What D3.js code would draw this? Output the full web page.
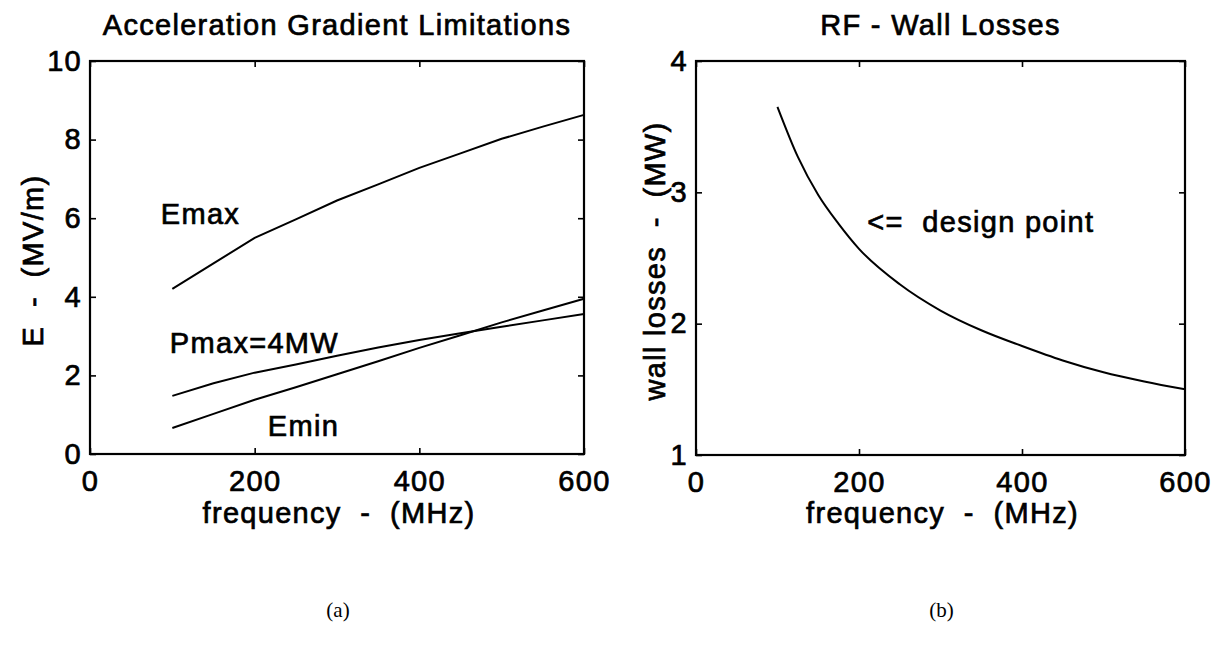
<!DOCTYPE html>
<html><head><meta charset="utf-8">
<script src="https://cdn.jsdelivr.net/npm/d3@7"></script>
<style>
body{margin:0;background:#fff;}
svg text{font-family:Arial,"Liberation Sans",Helvetica,sans-serif;fill:#000;}
svg text.sans{stroke:#000;stroke-width:0.7px;}
</style></head>
<body><svg id="c" width="1218" height="656"></svg>
<script>
// ---- Data ----
const freqA = [100,150,200,250,300,350,400,450,500,550,600];
const emax  = [4.2,4.85,5.5,5.97,6.45,6.86,7.28,7.65,8.02,8.33,8.63];
const pmax  = [1.48,1.8,2.07,2.28,2.5,2.71,2.9,3.07,3.24,3.4,3.56];
const emin  = [0.66,1.02,1.38,1.7,2.03,2.36,2.7,3.02,3.35,3.65,3.95];
const seriesNamesA = ["Emax","Pmax=4MW","Emin"];

const freqB = [100,125,150,175,200,250,300,350,400,450,500,550,600];
const wallLoss = [3.65,3.27,2.98,2.76,2.57,2.3,2.1,1.95,1.83,1.72,1.63,1.56,1.5];

const xTicks = [0,200,400,600];
const yTicksA = [0,2,4,6,8,10];
const yTicksB = [1,2,3,4];

const svg = d3.select("#c");
const FS = 29, LS = "1.3px";

function panel(o){
  const x = d3.scaleLinear().domain([0,600]).range([o.x0,o.x1]);
  const y = d3.scaleLinear().domain(o.yDom).range([o.y1,o.y0]);
  const g = svg.append("g");
  const fmt = d3.format("d");
  const ax = [
    [d3.axisBottom(x).tickValues(xTicks).tickFormat(fmt).tickSizeInner(-6).tickSizeOuter(0).tickPadding(16), `translate(0,${o.y1})`],
    [d3.axisTop(x).tickValues(xTicks).tickSizeInner(-6).tickSizeOuter(0).tickFormat(""), `translate(0,${o.y0})`],
    [d3.axisLeft(y).tickValues(o.yTicks).tickFormat(fmt).tickSizeInner(-6).tickSizeOuter(0).tickPadding(8), `translate(${o.x0},0)`],
    [d3.axisRight(y).tickValues(o.yTicks).tickSizeInner(-6).tickSizeOuter(0).tickFormat(""), `translate(${o.x1},0)`]
  ];
  ax.forEach(([a,t])=>{
    const s = g.append("g").attr("transform",t).call(a);
    s.select(".domain").remove();
    s.selectAll(".tick line").attr("stroke","#000").attr("stroke-width",1.6);
    s.selectAll("text").attr("class","sans").attr("font-size",FS).attr("letter-spacing",LS)
      .attr("font-family",'Arial,"Liberation Sans",sans-serif').attr("fill","#000");
  });
  g.append("rect").attr("x",o.x0).attr("y",o.y0).attr("width",o.x1-o.x0).attr("height",o.y1-o.y0)
    .attr("fill","none").attr("stroke","#000").attr("stroke-width",2.2);
  g.append("text").attr("class","sans").attr("x",(o.x0+o.x1)/2).attr("y",35).attr("text-anchor","middle")
    .attr("font-size",FS).attr("letter-spacing",LS).text(o.title);
  g.append("text").attr("class","sans").attr("x",(o.x0+o.x1)/2+2).attr("y",523).attr("text-anchor","middle")
    .attr("font-size",FS).attr("letter-spacing",LS).style("white-space","pre")
    .text("frequency  -  (MHz)");
  g.append("text").attr("class","sans").attr("transform",`translate(${o.ylx},${(o.y0+o.y1)/2+3}) rotate(-90)`)
    .attr("text-anchor","middle").attr("font-size",FS).attr("letter-spacing",LS).style("white-space","pre")
    .text(o.ylabel);
  g.append("text").attr("x",(o.x0+o.x1)/2+1).attr("y",617).attr("text-anchor","middle")
    .style("font-family",'"Liberation Serif","Times New Roman",serif')
    .attr("font-size",21).text(o.caption);
  return {g,x,y};
}

// Panel (a)
const A = panel({x0:90,x1:584,y0:61,y1:454,yDom:[0,10],yTicks:yTicksA,
  title:"Acceleration Gradient Limitations",ylabel:"E  -  (MV/m)",ylx:43,caption:"(a)"});
const lineA = d3.line().x(d=>A.x(d[0])).y(d=>A.y(d[1]));
[emax,pmax,emin].forEach(s=>{
  A.g.append("path").datum(freqA.map((f,i)=>[f,s[i]])).attr("d",lineA)
    .attr("fill","none").attr("stroke","#000").attr("stroke-width",2);
});
const labA = [[seriesNamesA[0],86,5.85],[seriesNamesA[1],97,2.57],[seriesNamesA[2],216,0.45]];
labA.forEach(([t,fx,fy])=>{
  A.g.append("text").attr("class","sans").attr("x",A.x(fx)).attr("y",A.y(fy)).attr("font-size",FS).attr("letter-spacing",LS).text(t);
});

// Panel (b)
const B = panel({x0:696,x1:1185,y0:61,y1:455,yDom:[1,4],yTicks:yTicksB,
  title:"RF - Wall Losses",ylabel:"wall losses  -  (MW)",ylx:665,caption:"(b)"});
const lineB = d3.line().x(d=>B.x(d[0])).y(d=>B.y(d[1])).curve(d3.curveMonotoneX);
B.g.append("path").datum(freqB.map((f,i)=>[f,wallLoss[i]])).attr("d",lineB)
  .attr("fill","none").attr("stroke","#000").attr("stroke-width",2);
B.g.append("text").attr("class","sans").attr("x",B.x(210)).attr("y",B.y(2.70)).attr("font-size",FS).attr("letter-spacing",LS)
  .style("white-space","pre").text("<=  design point");
</script></body></html>
